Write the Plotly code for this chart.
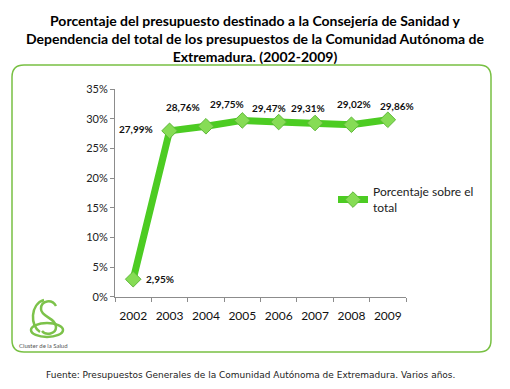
import plotly.graph_objects as go

years = ["2002", "2003", "2004", "2005", "2006", "2007", "2008", "2009"]
values = [2.95, 27.99, 28.76, 29.75, 29.47, 29.31, 29.02, 29.86]
series_name = "Porcentaje sobre el<br>total"
title_text = ("Porcentaje del presupuesto destinado a la Consejería de Sanidad y<br>"
              "Dependencia del total de los presupuestos de la Comunidad Autónoma de<br>"
              "Extremadura. (2002-2009)")
source_text = "Fuente: Presupuestos Generales de la Comunidad Autónoma de Extremadura. Varios años."

# label offsets (px) relative to each point
label_dx = [27, -34, -23, -15, -10, -7, 3, 9]
label_dy = [0, 2, 19, 16, 14, 15, 21, 14]

W, H = 510, 389
def X(px): return px / W
def Y(py): return 1 - py / H

FONT = "Lato"
GREEN = "#4ccc22"

fig = go.Figure()
fig.add_trace(go.Scatter(
    x=years, y=values, mode="lines+markers", name=series_name,
    line=dict(color=GREEN, width=7),
    marker=dict(symbol="diamond", size=12, color="#86dc55",
                line=dict(color="#5fb83a", width=1)),
    showlegend=True, hoverinfo="skip",
))

annotations = []
for i, (v, dx, dy) in enumerate(zip(values, label_dx, label_dy)):
    annotations.append(dict(
        x=i, y=v, xref="x", yref="y", text=f"{v:.2f}".replace(".", ",") + "%",
        showarrow=False, xshift=dx, yshift=dy,
        font=dict(family=FONT, size=10, color="#111111", weight="bold"),
    ))

annotations.append(dict(
    x=X(255), y=Y(38.5), xref="paper", yref="paper", text=title_text,
    showarrow=False, xanchor="center", yanchor="middle",
    font=dict(family=FONT, size=14, color="#000000", weight="bold"),
))
annotations.append(dict(
    x=X(250), y=Y(375), xref="paper", yref="paper", text=source_text,
    showarrow=False, xanchor="center", yanchor="middle",
    font=dict(family="DejaVu Sans", size=9, color="#222222"),
))
annotations.append(dict(
    x=X(43), y=Y(345), xref="paper", yref="paper", text="Cluster de la Salud",
    showarrow=False, xanchor="center", yanchor="middle",
    font=dict(family=FONT, size=6, color="#555555"),
))

# rounded frame
x0, x1, y0, y1, r = 12, 491, 65, 352, 12
def P(px, py): return f"{X(px)},{Y(py)}"
frame = (f"M {P(x0 + r, y0)} L {P(x1 - r, y0)} Q {P(x1, y0)} {P(x1, y0 + r)} "
         f"L {P(x1, y1 - r)} Q {P(x1, y1)} {P(x1 - r, y1)} "
         f"L {P(x0 + r, y1)} Q {P(x0, y1)} {P(x0, y1 - r)} "
         f"L {P(x0, y0 + r)} Q {P(x0, y0)} {P(x0 + r, y0)} Z")
LOGO = "#7cc24a"
s_path = (f"M {P(56, 306)} C {P(52, 299)} {P(41, 300)} {P(41, 309)} "
          f"C {P(41, 317)} {P(56, 318)} {P(56, 327)} C {P(56, 334)} {P(46, 336)} {P(42, 331)}")
c_path = (f"M {P(44, 300)} C {P(30, 304)} {P(30, 326)} {P(40, 332)}")
shapes = [
    dict(type="path", path=frame, xref="paper", yref="paper",
         line=dict(color="#78c043", width=1.5)),
    dict(type="circle", xref="paper", yref="paper", x0=X(31), x1=X(63), y0=Y(323), y1=Y(337),
         line=dict(color=LOGO, width=2.5)),
    dict(type="path", path=s_path, xref="paper", yref="paper", line=dict(color=LOGO, width=2.5)),
    dict(type="path", path=c_path, xref="paper", yref="paper", line=dict(color=LOGO, width=2.5)),
]

fig.update_layout(
    width=W, height=H, autosize=False,
    margin=dict(l=0, r=0, t=0, b=0, autoexpand=False),
    paper_bgcolor="white", plot_bgcolor="white",
    font=dict(family=FONT, color="#222222"),
    annotations=annotations, shapes=shapes,
    legend=dict(x=X(333), y=Y(200), xanchor="left", yanchor="middle",
                font=dict(family=FONT, size=12, color="#222222"),
                bgcolor="rgba(0,0,0,0)", itemwidth=30),
    xaxis=dict(domain=[X(115), X(406)], type="category", range=[-0.5, 7.5],
               showgrid=False, showline=True, linecolor="#8c8c8c", linewidth=1,
               ticks="outside", ticklen=4, tickcolor="#8c8c8c", tickson="boundaries",
               tickangle=0, automargin=False, ticklabelstandoff=8,
               tickfont=dict(family=FONT, size=12, color="#111111"), zeroline=False),
    yaxis=dict(domain=[Y(296.7), Y(89.3)], range=[0, 35], dtick=5, ticksuffix="%",
               showgrid=False, showline=True, linecolor="#8c8c8c", linewidth=1,
               ticks="outside", ticklen=4, tickcolor="#8c8c8c", automargin=False,
               tickfont=dict(family=FONT, size=11, color="#222222"), zeroline=False),
)

fig.write_html("out.html", config={"displayModeBar": False},
               post_script="document.body.style.margin='0px';")
